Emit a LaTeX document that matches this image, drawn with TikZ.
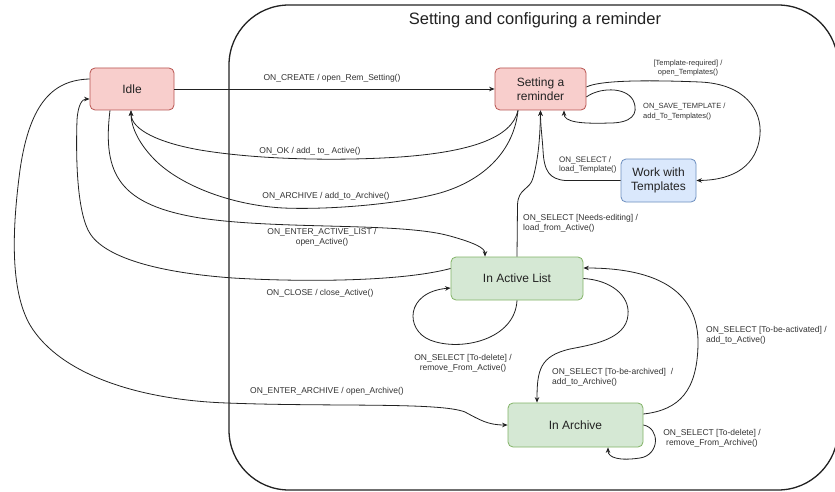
\documentclass[tikz,border=0pt]{standalone}
\usepackage{fontspec}
\setmainfont{Liberation Sans}
\usetikzlibrary{arrows.meta}
\definecolor{redfill}{HTML}{F8CECC}
\definecolor{redline}{HTML}{B85450}
\definecolor{bluefill}{HTML}{DAE8FC}
\definecolor{blueline}{HTML}{6C8EBF}
\definecolor{greenfill}{HTML}{D5E8D4}
\definecolor{greenline}{HTML}{82B366}
\definecolor{ink}{HTML}{222222}
\definecolor{labelink}{HTML}{333333}
\tikzset{
  state/.style={draw, rounded corners=5pt, line width=0.8pt, inner sep=0pt,
    font=\fontsize{12}{14}\selectfont, text=ink, align=center},
  redstate/.style={state, fill=redfill, draw=redline},
  bluestate/.style={state, fill=bluefill, draw=blueline},
  greenstate/.style={state, fill=greenfill, draw=greenline},
  trans/.style={draw=ink, line width=0.8pt, -{Stealth[length=5.5pt,width=4.5pt]}},
  lbl/.style={font=\fontsize{8.5}{10}\selectfont, text=labelink, inner sep=0pt, align=center},
  lblsmall/.style={lbl, font=\fontsize{7.5}{9.5}\selectfont},
  lblleft/.style={lbl, align=left, anchor=west},
}
\begin{document}
\begin{tikzpicture}[x=1pt, y=-1pt]
  \useasboundingbox (0,0) rectangle (835,492);
  \clip (0,0) rectangle (835,492);
  \fill[white] (0,0) rectangle (835,492);

  % composite state
  \draw[ink, line width=1.3pt, rounded corners=60pt] (229,5) rectangle (838,490);
  \node[font=\fontsize{16.5}{19}\selectfont, text=ink] (title) at (535,20) {Setting and configuring a reminder};

  % states
  \node[redstate, minimum width=84pt, minimum height=42pt] (idle) at (132,89) {Idle};
  \node[redstate, minimum width=91pt, minimum height=42pt] (set) at (540.5,89) {Setting a\\reminder};
  \node[bluestate, minimum width=75pt, minimum height=43pt] (tpl) at (658.5,180.5) {Work with\\Templates};
  \node[greenstate, minimum width=132pt, minimum height=43pt] (act) at (517,278.5) {In Active List};
  \node[greenstate, minimum width=135pt, minimum height=44pt] (arc) at (575.5,425) {In Archive};

  % Idle -> Setting a reminder
  \draw[trans] (idle.east) -- (set.west);
  \node[lbl] (l1) at (332,78) {ON\_CREATE / open\_Rem\_Setting()};

  % Setting a reminder -> Idle
  \draw[trans] ([xshift=-22.5pt]set.south) .. controls (512,138) and (470,152) .. (400,157)
    .. controls (340,161) and (260,160) .. (200,150)
    .. controls (160,143) and (131,130) .. ([xshift=-1pt]idle.south);
  \node[lbl] (l2) at (310,151) {ON\_OK / add\_ to\_ Active()};

  \draw[trans] ([xshift=-22.5pt]set.south) .. controls (514,150) and (485,180) .. (440,193)
    .. controls (400,204) and (330,210) .. (283,208)
    .. controls (230,205) and (180,185) .. (155,160)
    .. controls (140,145) and (131,128) .. ([xshift=-1pt]idle.south);
  \node[lbl] (l3) at (326,196) {ON\_ARCHIVE / add\_to\_Archive()};

  % Idle -> In Active List
  \draw[trans] ([xshift=-22pt]idle.south) .. controls (102,175) and (120,205) .. (200,218)
    .. controls (280,230) and (400,222) .. (450,236)
    .. controls (475,243) and (485,248) .. ([xshift=-32pt]act.north);
  \node[lbl] (l4) at (322,237) {ON\_ENTER\_ACTIVE\_LIST /\\open\_Active()};

  % In Active List -> Idle
  \draw[trans] ([yshift=10pt]act.west) .. controls (400,282) and (300,282) .. (233,278)
    .. controls (150,272) and (100,255) .. (88,230)
    .. controls (76,205) and (76,150) .. (77,120)
    .. controls (78,105) and (82,99) .. ([yshift=-10pt]idle.west);
  \node[lbl] (l5) at (320,293) {ON\_CLOSE / close\_Active()};

  % Idle -> In Archive
  \draw[trans] ([yshift=10pt]idle.west) .. controls (55,80) and (30,100) .. (20,170)
    .. controls (12,230) and (10,290) .. (30,325)
    .. controls (60,375) and (140,400) .. (227,403)
    .. controls (330,407) and (440,402) .. (465,412)
    .. controls (480,420) and (488,425) .. (arc.west);
  \node[lbl] (l6) at (327,391) {ON\_ENTER\_ARCHIVE / open\_Archive()};

  % In Active List self loop
  \draw[trans] (act.south) .. controls (515,340) and (460,352) .. (430,340)
    .. controls (405,330) and (405,292) .. ([yshift=-9.5pt]act.west);
  \node[lbl] (l7) at (463,363) {ON\_SELECT [To-delete] /\\remove\_From\_Active()};

  % In Active List -> Setting a reminder
  \draw[trans] (act.north) -- (517.5,205) .. controls (518,188) and (530,190) .. (533,178)
    .. controls (538,160) and (540,140) .. (set.south);
  \node[lblleft] (l8) at (523,223.5) {ON\_SELECT [Needs-editing] /\\load\_from\_Active()};

  % Work with Templates -> Setting a reminder
  \draw[trans] (tpl.west) -- (565,180.5) .. controls (550,179) and (544,172) .. (543,150)
    .. controls (542,135) and (540.5,125) .. (set.south);
  \node[lblleft, font=\fontsize{8}{9.5}\selectfont] (l9) at (559,165) {ON\_SELECT /\\load\_Template()};

  % Setting a reminder -> Work with Templates
  \draw[trans] ([yshift=2pt]set.east) .. controls (600,80) and (650,80) .. (700,82)
    .. controls (745,84) and (762,110) .. (760,135)
    .. controls (757,165) and (735,180) .. (tpl.east);
  \node[lblsmall] (l10) at (688,68) {[Template-required] /\\open\_Templates()};

  % Setting a reminder self loop
  \draw[trans] ([yshift=-8pt]set.east) .. controls (598,88) and (625,86) .. (633,100)
    .. controls (640,115) and (630,123) .. (610,123)
    .. controls (580,124) and (564,122) .. ([xshift=23.5pt]set.south);
  \node[lblsmall, align=left, anchor=west] (l11) at (643,111.5) {ON\_SAVE\_TEMPLATE /\\add\_To\_Templates()};

  % In Active List -> In Archive
  \draw[trans] (act.east) .. controls (610,280) and (630,295) .. (628,315)
    .. controls (626,340) and (590,345) .. (570,349)
    .. controls (540,356) and (537,370) .. ([xshift=-38.5pt]arc.north);
  \node[lblleft] (l12) at (552,377) {ON\_SELECT [To-be-archived]\ \ /\\add\_to\_Archive()};

  % In Archive -> In Active List
  \draw[trans] ([yshift=11pt]arc.east) .. controls (680,410) and (697,390) .. (698,345)
    .. controls (699,300) and (670,268) .. ([yshift=10.5pt]act.east);
  \node[lblleft] (l13) at (706,335) {ON\_SELECT [To-be-activated] /\\add\_to\_Active()};

  % In Archive self loop
  \draw[trans] (arc.east) .. controls (660,428) and (660,455) .. (640,458)
    .. controls (620,461) and (608,458) .. ([xshift=32.5pt]arc.south);
  \node[lbl] (l14) at (712,438) {ON\_SELECT [To-delete] /\\remove\_From\_Archive()};
\end{tikzpicture}
\end{document}
